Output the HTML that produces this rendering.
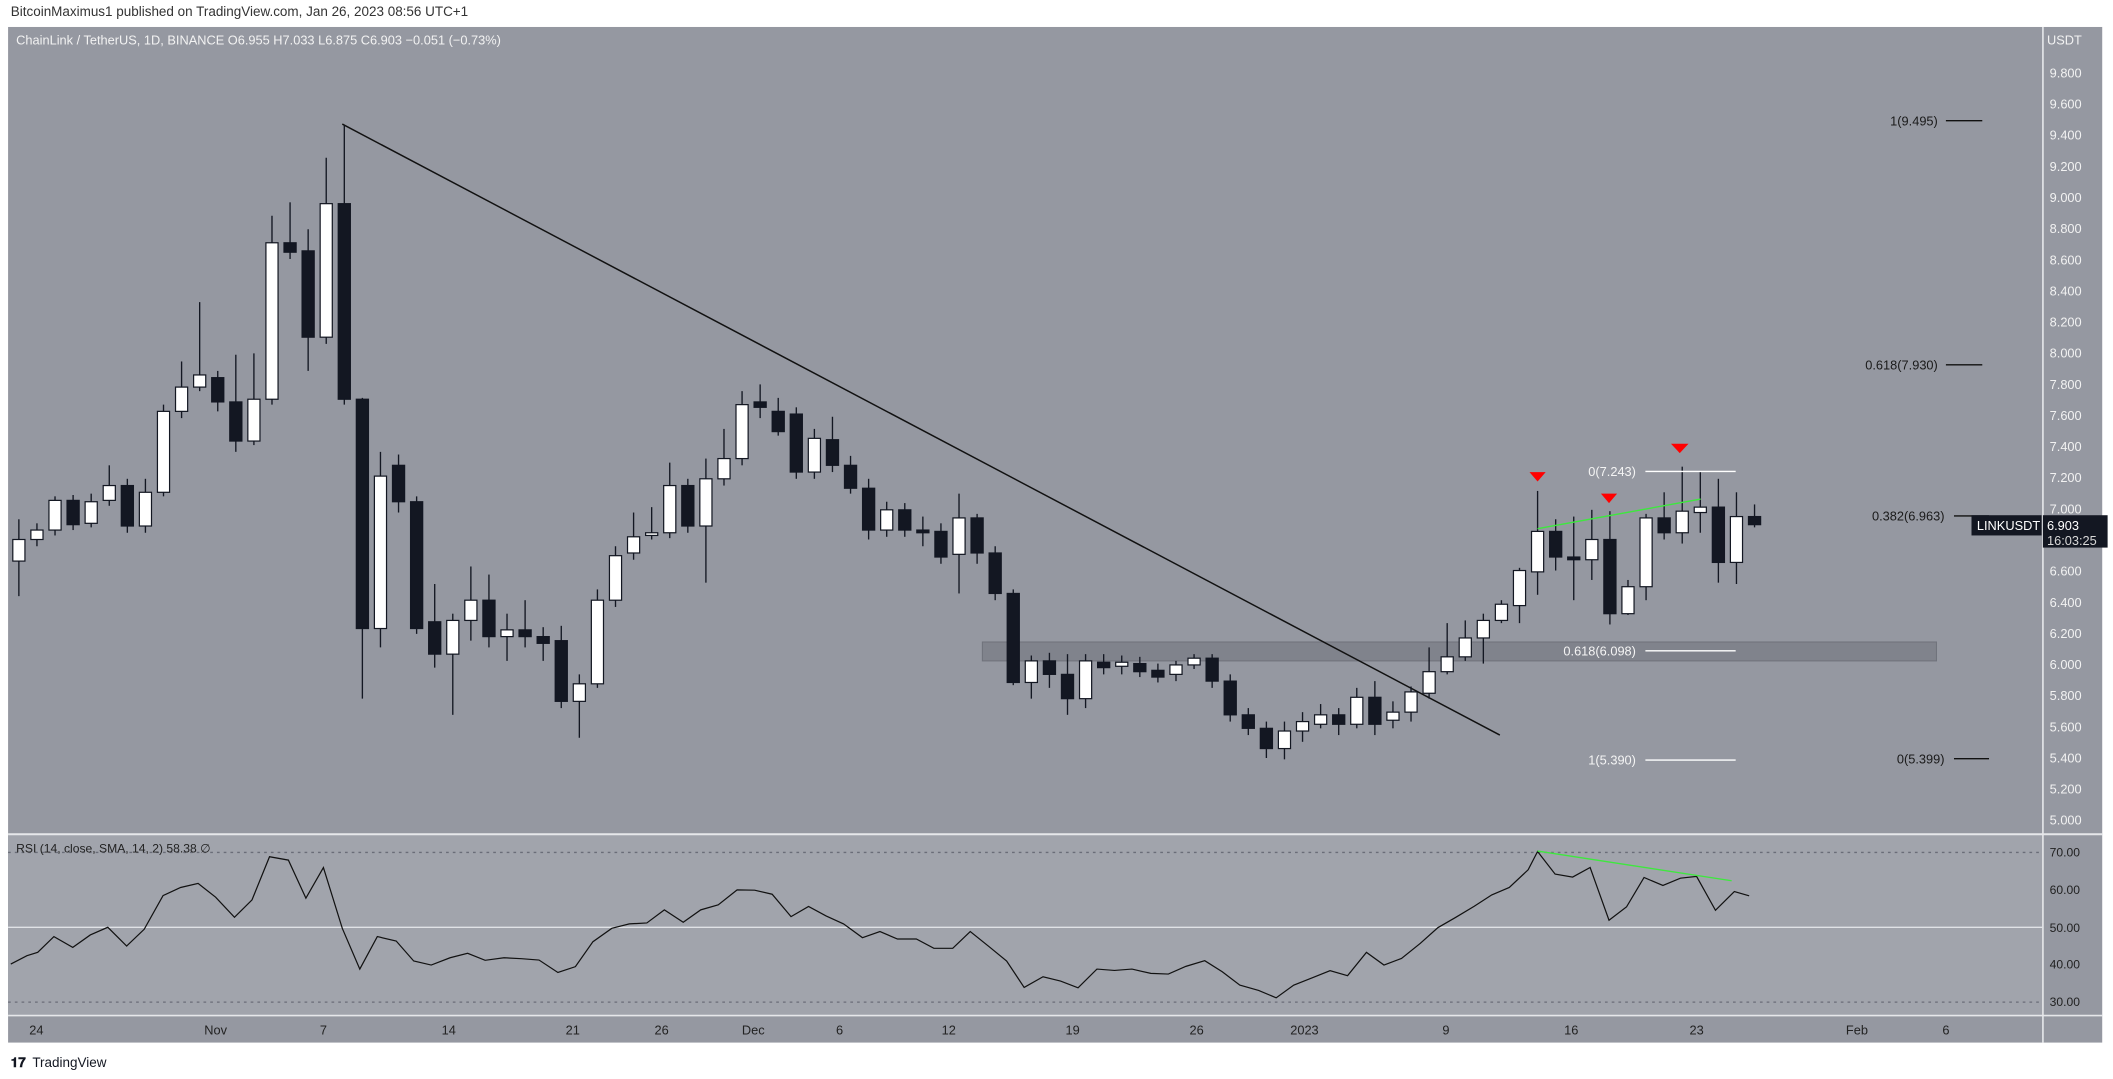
<!DOCTYPE html>
<html><head><meta charset="utf-8"><style>
html,body{margin:0;padding:0;background:#fff;width:2113px;height:1079px;overflow:hidden}
svg{display:block}
text{font-family:"Liberation Sans",sans-serif}
</style></head><body>
<svg id="s" width="2113" height="1079" viewBox="0 0 1568 800" preserveAspectRatio="none" xmlns="http://www.w3.org/2000/svg">
<rect x="0" y="0" width="1568" height="800" fill="#fff"/>
<text x="8" y="12" font-size="10" fill="#333">BitcoinMaximus1 published on TradingView.com, Jan 26, 2023 08:56 UTC+1</text>
<rect x="6" y="20" width="1554" height="753" fill="#9598a1"/>
<rect x="6" y="619" width="1510" height="134" fill="#a1a4ac"/>
<line x1="6" y1="618.5" x2="1560" y2="618.5" stroke="#e6e7ea" stroke-width="1.5"/>
<line x1="6" y1="753" x2="1560" y2="753" stroke="#e6e7ea" stroke-width="1.2"/>
<line x1="1516" y1="20" x2="1516" y2="773" stroke="#e6e7ea" stroke-width="1.2"/>
<text x="12" y="33" font-size="9.5" fill="#f2f2f2">ChainLink / TetherUS, 1D, BINANCE  O6.955  H7.033  L6.875  C6.903  −0.051 (−0.73%)</text>
<text x="1519" y="33" font-size="9.5" fill="#f2f2f2">USDT</text>
<g id="axis"></g>
<rect x="729" y="476" width="708" height="14" fill="#80838c" stroke="#70737c" stroke-width="0.8"/>
<line x1="254" y1="92" x2="1113" y2="545" stroke="#111" stroke-width="1.1"/>
<g id="candles"></g>
<g font-size="9.5" fill="#1a1a1a" text-anchor="end">
<text x="1438" y="93">1(9.495)</text><line x1="1444" y1="89.5" x2="1471" y2="89.5" stroke="#111"/>
<text x="1438" y="274">0.618(7.930)</text><line x1="1444" y1="270.5" x2="1471" y2="270.5" stroke="#111"/>
<text x="1443" y="386">0.382(6.963)</text><line x1="1450" y1="382.5" x2="1476" y2="382.5" stroke="#111"/>
<text x="1443" y="566">0(5.399)</text><line x1="1450" y1="562.5" x2="1476" y2="562.5" stroke="#111"/>
</g>
<g font-size="9.5" fill="#f4f4f4" text-anchor="end">
<text x="1214" y="353">0(7.243)</text><line x1="1221" y1="349.5" x2="1288" y2="349.5" stroke="#fff"/>
<text x="1214" y="486">0.618(6.098)</text><line x1="1221" y1="482.5" x2="1288" y2="482.5" stroke="#fff"/>
<text x="1214" y="567">1(5.390)</text><line x1="1221" y1="563.5" x2="1288" y2="563.5" stroke="#fff"/>
</g>
<line x1="1141" y1="392" x2="1262" y2="370" stroke="#3ee83e" stroke-width="1"/>
<polygon points="1135,350 1147,350 1141,357" fill="#f00"/>
<polygon points="1188,366 1200,366 1194,373" fill="#f00"/>
<polygon points="1240,329 1253,329 1246.5,336" fill="#f00"/>
<rect x="1463" y="382" width="52" height="15" fill="#131722"/>
<text x="1467" y="393" font-size="9.5" fill="#fff">LINKUSDT</text>
<rect x="1516" y="382" width="48" height="24" fill="#131722"/>
<text x="1519" y="393" font-size="9.5" fill="#fff">6.903</text>
<text x="1519" y="404" font-size="9.5" fill="#d8d8d8">16:03:25</text>
<line x1="6" y1="632" x2="1516" y2="632" stroke="#6a6d78" stroke-dasharray="2,3"/>
<line x1="6" y1="743" x2="1516" y2="743" stroke="#6a6d78" stroke-dasharray="2,3"/>
<line x1="6" y1="687.5" x2="1516" y2="687.5" stroke="#e0e2e6" stroke-width="1"/>
<text x="12" y="632" font-size="9" fill="#222">RSI (14, close, SMA, 14, 2)  58.38  ∅</text>
<g font-size="9" fill="#222">
<text x="1521" y="635">70.00</text><text x="1521" y="663">60.00</text><text x="1521" y="691">50.00</text><text x="1521" y="718">40.00</text><text x="1521" y="746">30.00</text>
</g>
<polyline id="rsi" fill="none" stroke="#111" stroke-width="0.9"/>
<line x1="1141" y1="631" x2="1285" y2="653" stroke="#3ee83e" stroke-width="1"/>
<g font-size="9.5" fill="#222" text-anchor="middle">
<text x="27" y="767">24</text><text x="160" y="767">Nov</text><text x="240" y="767">7</text><text x="333" y="767">14</text><text x="425" y="767">21</text><text x="491" y="767">26</text><text x="559" y="767">Dec</text><text x="623" y="767">6</text><text x="704" y="767">12</text><text x="796" y="767">19</text><text x="888" y="767">26</text><text x="968" y="767">2023</text><text x="1073" y="767">9</text><text x="1166" y="767">16</text><text x="1259" y="767">23</text><text x="1378" y="767">Feb</text><text x="1444" y="767">6</text>
</g>
<text x="8" y="791" font-size="10" font-weight="bold" fill="#131722">𝟏𝟕</text>
<text x="24" y="791" font-size="10" fill="#131722">TradingView</text>
</svg>
<script>
var NS="http://www.w3.org/2000/svg";
function el(t,a,p){var e=document.createElementNS(NS,t);for(var k in a)e.setAttribute(k,a[k]);p.appendChild(e);return e;}
var ax=document.getElementById("axis");
for(var i=0;i<25;i++){var p=9.8-i*0.2;var y=77+(9.6-p)*115.43;if(y<40||y>612)continue;var t=el("text",{x:1521,y:y+3.5,"font-size":9.5,fill:"#f2f2f2"},ax);t.textContent=p.toFixed(3);}
var d=[[400,416,385,442,1],[393,400,388,405,1],[371,393,368,397,1],[371,389,367,393,0],[372,388,366,391,1],[360,371,345,375,1],[360,390,355,395,0],[365,390,355,395,1],[305,365,300,368,1],[287,305,268,310,1],[278,287,224,290,1],[280,298,275,305,0],[298,327,263,335,0],[296,327,262,330,1],[180,296,160,300,1],[180,187,150,192,0],[186,250,170,275,0],[151,250,117,255,1],[151,296,93,300,0],[296,466,295,518,0],[353,466,335,480,1],[345,372,337,380,0],[372,466,368,470,0],[461,485,433,495,0],[460,485,455,530,1],[445,460,420,475,1],[445,472,426,480,0],[467,472,455,490,1],[467,472,445,480,0],[472,477,465,490,0],[475,520,464,525,0],[507,520,500,547,1],[445,507,437,510,1],[412,445,405,450,1],[398,410,380,415,1],[395,397,376,400,1],[360,395,343,399,1],[360,390,355,395,0],[355,390,340,432,1],[340,355,318,360,1],[300,340,290,345,1],[298,302,285,310,0],[305,320,295,323,0],[307,350,302,355,0],[325,350,318,355,1],[326,345,309,350,0],[345,362,338,366,0],[362,393,355,400,0],[378,393,372,398,1],[378,393,373,398,0],[393,395,383,405,0],[394,413,388,418,0],[384,411,366,440,1],[384,410,381,418,0],[410,440,405,445,0],[440,506,437,508,0],[490,506,486,518,1],[490,500,484,510,0],[500,518,485,530,0],[490,518,485,525,1],[491,495,485,500,0],[491,494,486,500,1],[492,498,487,502,0],[497,502,492,506,0],[493,500,490,505,1],[488,493,485,496,1],[488,505,485,510,0],[505,530,500,535,0],[530,540,525,545,0],[540,555,535,562,0],[542,555,535,563,1],[535,542,528,550,1],[530,537,522,540,1],[530,537,525,545,0],[517,537,510,540,1],[517,537,505,545,0],[528,534,520,540,1],[513,528,509,535,1],[498,514,480,518,1],[487,498,462,500,1],[473,487,460,490,1],[460,473,455,492,1],[448,460,445,462,1],[423,449,421,462,1],[394,424,364,441,1],[394,413,385,423,0],[413,415,383,445,0],[400,415,378,430,1],[400,455,379,463,0],[435,455,430,456,1],[384,435,381,445,1],[384,395,365,400,0],[379,395,346,403,1],[376,380,350,395,1],[376,417,355,432,0],[383,417,365,433,1],[383,389,374,391,0]];
var g=document.getElementById("candles");
var n=d.length,x0=14,step=(1302-14)/(n-1);
d.forEach(function(c,i){var x=x0+i*step;
el("line",{x1:x,y1:c[2],x2:x,y2:c[3],stroke:"#131722","stroke-width":1},g);
var h=Math.max(c[1]-c[0],1.5);
el("rect",{x:x-4.5,y:c[0],width:9,height:h,fill:c[4]?"#fff":"#131722",stroke:"#131722","stroke-width":0.9},g);});
var r=[[8,487],[20,462],[28,452],[40,405],[54,437],[67,400],[80,377],[94,433],[107,383],[121,282],[134,258],[147,246],[160,287],[174,347],[187,295],[200,166],[214,176],[227,290],[240,198],[254,380],[267,502],[280,405],[294,418],[307,478],[320,490],[334,468],[347,455],[360,476],[374,468],[387,471],[400,475],[414,512],[427,495],[440,420],[454,380],[467,367],[480,364],[493,325],[507,362],[520,325],[533,310],[547,265],[560,266],[573,278],[587,345],[600,315],[613,343],[626,367],[640,408],[653,390],[666,412],[680,412],[693,440],[707,440],[720,390],[734,435],[747,478],[760,557],[774,525],[787,538],[800,558],[814,502],[827,506],[840,502],[854,515],[867,517],[880,494],[894,477],[907,510],[920,550],[934,566],[947,588],[960,550],[974,528],[987,507],[1000,522],[1014,452],[1027,490],[1040,470],[1054,425],[1067,378],[1080,348],[1094,314],[1107,280],[1120,258],[1134,205],[1141,150],[1154,218],[1167,227],[1180,198],[1194,356],[1207,316],[1220,228],[1234,252],[1247,230],[1259,225],[1273,326],[1287,270],[1298,283]];
document.getElementById("rsi").setAttribute("points",r.map(function(p){return p[0]+","+(632+(p[1]-153)*0.2478).toFixed(1);}).join(" "));
</script>
</body></html>
